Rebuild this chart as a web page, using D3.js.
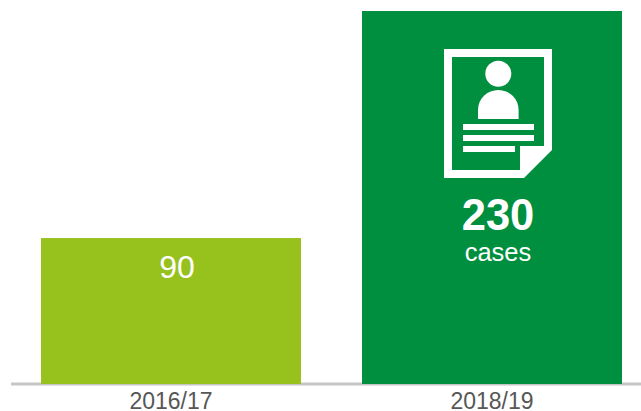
<!DOCTYPE html>
<html><head><meta charset="utf-8">
<script src="https://cdn.jsdelivr.net/npm/d3@7"></script>
<style>html,body{margin:0;padding:0;background:#fff}svg{display:block}text{font-family:"Liberation Sans",Arial,sans-serif}</style>
</head><body><div id="c"></div>
<script>
const categories=["2016/17","2018/19"];
const values=[90,230];
const colors=["#97c11d","#008f3e"];
const W=641,H=411,base=384;
const svg=d3.select("#c").append("svg").attr("width",W).attr("height",H);
const x=d3.scaleBand().domain(categories).range([41,622]).paddingInner(61/321);
const y=d3.scaleLinear().domain([0,230]).range([base,11]);
svg.append("line").attr("x1",11).attr("x2",641).attr("y1",base).attr("y2",base).attr("stroke","#c6c6c6").attr("stroke-width",3);
svg.selectAll("rect.bar").data(categories).join("rect").attr("class","bar")
 .attr("x",d=>x(d)).attr("width",x.bandwidth())
 .attr("y",(d,i)=>y(values[i])).attr("height",(d,i)=>base-y(values[i])).attr("fill",(d,i)=>colors[i]);
const axis=d3.axisBottom(x).tickSize(0).tickPadding(0);
const ax=svg.append("g").attr("transform",`translate(0,${base})`).call(axis);
ax.select(".domain").remove();
ax.selectAll("text").attr("y",0).attr("dy",0).attr("transform","translate(0,24.5)").attr("font-size",23).attr("fill","#575756").style("font-family",'"Liberation Sans",Arial,sans-serif');
const cx=x(categories[0])+x.bandwidth()/2, cx2=x(categories[1])+x.bandwidth()/2;
svg.append("text").attr("x",cx+6).attr("y",278).attr("text-anchor","middle").attr("font-size",32).attr("fill","#fff").text(values[0]);
svg.append("text").attr("x",cx2+6).attr("y",229.5).attr("text-anchor","middle").attr("font-size",43.5).attr("font-weight","bold").attr("fill","#fff").text(values[1]);
svg.append("text").attr("x",cx2+6).attr("y",261).attr("text-anchor","middle").attr("font-size",25.5).attr("fill","#fff").text("cases");
// document icon
const ic=svg.append("g").attr("fill","#fff");
ic.append("path").attr("fill-rule","evenodd").attr("d","M444,49H552V150L524,178H444ZM452,57V170H520V146H544V57Z");
ic.append("circle").attr("cx",498.3).attr("cy",73.7).attr("r",13);
ic.append("path").attr("d","M478,119V110A20.3,20 0 0 1 518.6,110V119Z");
ic.append("rect").attr("x",463).attr("y",124).attr("width",71).attr("height",6);
ic.append("rect").attr("x",463).attr("y",135).attr("width",71).attr("height",6);
ic.append("rect").attr("x",463).attr("y",146).attr("width",52).attr("height",6);
</script></body></html>
